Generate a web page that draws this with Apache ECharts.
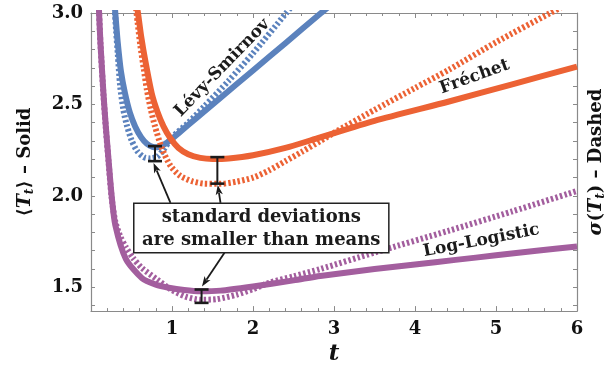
<!DOCTYPE html>
<html><head><meta charset="utf-8">
<script src="https://cdn.jsdelivr.net/npm/echarts@6/dist/echarts.min.js"></script>
<style>html,body{margin:0;padding:0;background:#fff}#c{width:616px;height:371px}</style>
</head><body><div id="c"></div>
<script>
// ---- data (t, value) ----
const lsMeanT = [0.28, 0.30, 0.33, 0.37, 0.42, 0.48, 0.545, 0.62, 0.69, 0.76, 0.82, 0.90, 0.98, 1.10, 1.30, 1.60, 2.00, 2.40, 2.84, 2.95];
const lsMeanY = [3.12, 3.00, 2.84, 2.68, 2.56, 2.455, 2.38, 2.32, 2.285, 2.268, 2.266, 2.28, 2.305, 2.35, 2.425, 2.537, 2.686, 2.835, 3.00, 3.04];
const lsSdT   = [0.285, 0.31, 0.33, 0.36, 0.40, 0.44, 0.50, 0.57, 0.65, 0.73, 0.82, 0.90, 1.00, 1.20, 1.40, 1.70, 2.00, 2.41, 2.50];
const lsSdY   = [3.08, 2.90, 2.78, 2.60, 2.47, 2.39, 2.305, 2.245, 2.212, 2.205, 2.215, 2.255, 2.32, 2.40, 2.49, 2.63, 2.78, 3.00, 3.05];

const frMeanT = [0.55, 0.58, 0.62, 0.67, 0.75, 0.82, 0.895, 0.98, 1.08, 1.20, 1.35, 1.50, 1.70, 2.00, 2.40, 2.83, 3.50, 4.42, 5.20, 6.00];
const frMeanY = [3.08, 3.00, 2.87, 2.74, 2.56, 2.46, 2.38, 2.315, 2.262, 2.228, 2.208, 2.202, 2.205, 2.222, 2.262, 2.32, 2.41, 2.516, 2.61, 2.707];
const frSdT   = [0.55, 0.575, 0.61, 0.65, 0.69, 0.74, 0.79, 0.875, 0.98, 1.10, 1.25, 1.40, 1.60, 1.80, 2.00, 2.20, 2.40, 2.60, 2.83, 3.00, 3.50, 4.00, 4.42, 5.00, 5.67, 5.80];
const frSdY   = [3.05, 2.95, 2.82, 2.70, 2.58, 2.47, 2.38, 2.26, 2.165, 2.11, 2.08, 2.067, 2.066, 2.078, 2.10, 2.14, 2.19, 2.24, 2.30, 2.345, 2.47, 2.59, 2.69, 2.84, 3.00, 3.03];

const llMeanT = [0.085, 0.10, 0.117, 0.154, 0.183, 0.216, 0.255, 0.30, 0.43, 0.63, 0.80, 0.96, 1.15, 1.35, 1.60, 2.00, 2.50, 2.83, 3.50, 4.00, 4.50, 5.00, 5.50, 6.00];
const llMeanY = [3.15, 3.00, 2.834, 2.56, 2.38, 2.20, 2.00, 1.84, 1.656, 1.55, 1.515, 1.498, 1.485, 1.478, 1.482, 1.505, 1.538, 1.562, 1.60, 1.625, 1.65, 1.675, 1.70, 1.723];
const llSdT   = [0.085, 0.10, 0.117, 0.154, 0.183, 0.216, 0.255, 0.30, 0.36, 0.43, 0.52, 0.63, 0.81, 0.98, 1.16, 1.35, 1.55, 1.80, 2.00, 2.20, 2.50, 2.83, 3.50, 4.42, 5.20, 6.00];
const llSdY   = [3.15, 3.00, 2.83, 2.55, 2.37, 2.19, 1.99, 1.86, 1.78, 1.72, 1.66, 1.605, 1.545, 1.49, 1.45, 1.432, 1.435, 1.46, 1.49, 1.525, 1.56, 1.60, 1.69, 1.81, 1.915, 2.027];

// x ticks / y tick labels
const xTickLabels = [1, 2, 3, 4, 5, 6];
const yTickLabels = [1.5, 2.0, 2.5, 3.0];
const yMinorTicks = [1.4, 1.5, 1.6, 1.7, 1.8, 1.9, 2.0, 2.1, 2.2, 2.3, 2.4, 2.5, 2.6, 2.7, 2.8, 2.9, 3.0];

// error bars at the minima (t, low, high)
const errT    = [0.79, 1.56, 1.365];
const errLow  = [2.19, 2.067, 1.415];
const errHigh = [2.272, 2.212, 1.488];

// annotation anchors in data coordinates
const arrowFromT = [0.981, 1.599, 1.648];
const arrowFromY = [1.962, 1.962, 1.689];
const arrowToT   = [0.772, 1.565, 1.370];
const arrowToY   = [2.180, 2.060, 1.505];
const boxCorners = [0.528, 1.689, 3.677, 1.960];
const boxLines   = ['standard deviations', 'are smaller than means'];
const curveNames = ['Lévy-Smirnov', 'Fréchet', 'Log-Logistic'];
const curveNameT = [1.62, 4.735, 4.82];
const curveNameY = [2.70, 2.651, 1.755];
const curveNameAngle = [46, 20, 11];

const zip = (a, b) => a.map((v, i) => [v, b[i]]);
const FONT = "'DejaVu Serif', serif";
const BLUE = '#5B82BD', ORANGE = '#EC6234', PURPLE = '#A35E9E';
const AX = '#8a8a8a';
const DASH = [2.4, 2.3];

function lineSeries(t, y, color, dashed, z) {
  return {
    type: 'line', data: zip(t, y), showSymbol: false, smooth: 0.25,
    clip: true, z: z, silent: true,
    lineStyle: { color: color, width: 6, type: dashed ? DASH : 'solid', cap: 'butt', join: 'round' }
  };
}

const chart = echarts.init(document.getElementById('c'), null, { renderer: 'canvas' });

const yAxisBase = {
  type: 'value', min: 1.37, max: 3.0,
  axisLine: { show: true, onZero: false, lineStyle: { color: AX, width: 1.2 } },
  axisTick: { show: true, inside: true, length: 4, customValues: yMinorTicks, lineStyle: { color: AX } },
  splitLine: { show: false },
};
const nameRich = {
  it: { fontFamily: FONT, fontWeight: 'bold', fontStyle: 'italic', fontSize: 19, color: '#111' },
  sub: { fontFamily: FONT, fontWeight: 'bold', fontStyle: 'italic', fontSize: 12, color: '#111', padding: [10, 0, 0, 0] }
};

chart.setOption({
  animation: false,
  grid: { left: 91, right: 39, top: 13, bottom: 58 },
  xAxis: [{
    type: 'value', min: 0, max: 6, interval: 1, position: 'bottom',
    axisLine: { show: true, onZero: false, lineStyle: { color: AX, width: 1.2 } },
    axisTick: { show: true, inside: true, length: 5, lineStyle: { color: AX } },
    minorTick: { show: true, splitNumber: 5, length: 3, lineStyle: { color: AX } },
    splitLine: { show: false }, minorSplitLine: { show: false },
    axisLabel: { formatter: v => (xTickLabels.indexOf(v) >= 0 ? String(v) : ''), color: '#111', fontFamily: FONT, fontWeight: 'bold', fontSize: 18, margin: 9 },
    name: 't', nameLocation: 'middle', nameGap: 27,
    nameTextStyle: { fontFamily: FONT, fontWeight: 'bold', fontStyle: 'italic', fontSize: 23, color: '#111' }
  }, {
    type: 'value', min: 0, max: 6, interval: 1, position: 'top',
    axisLine: { show: true, onZero: false, lineStyle: { color: AX, width: 1.2 } },
    axisTick: { show: true, inside: true, length: 5, lineStyle: { color: AX } },
    minorTick: { show: true, splitNumber: 5, length: 3, lineStyle: { color: AX } },
    splitLine: { show: false }, axisLabel: { show: false }
  }],
  yAxis: [Object.assign({}, yAxisBase, {
    position: 'left',
    axisLabel: { customValues: yTickLabels, formatter: v => v.toFixed(1), color: '#111', fontFamily: FONT, fontWeight: 'bold', fontSize: 18, margin: 8 },
    name: '⟨{it|T}{sub|t}⟩ – Solid', nameLocation: 'middle', nameGap: 55, nameRotate: 90,
    nameTextStyle: { fontFamily: FONT, fontWeight: 'bold', fontSize: 18, color: '#111', rich: nameRich }
  }), Object.assign({}, yAxisBase, {
    position: 'right',
    axisLabel: { show: false },
    name: '{it|σ}({it|T}{sub|t}) – Dashed', nameLocation: 'middle', nameGap: 8, nameRotate: 90,
    nameTextStyle: { fontFamily: FONT, fontWeight: 'bold', fontSize: 18, color: '#111', verticalAlign: 'top', rich: nameRich }
  })],
  series: [
    lineSeries(lsSdT, lsSdY, BLUE, true, 2),
    lineSeries(lsMeanT, lsMeanY, BLUE, false, 3),
    lineSeries(frSdT, frSdY, ORANGE, true, 4),
    lineSeries(frMeanT, frMeanY, ORANGE, false, 5),
    lineSeries(llSdT, llSdY, PURPLE, true, 6),
    lineSeries(llMeanT, llMeanY, PURPLE, false, 7),
    { // error bars
      type: 'custom', z: 10, silent: true,
      data: errT.map((t, i) => [t, errLow[i], errHigh[i]]),
      renderItem: (params, api) => {
        const a = api.coord([api.value(0), api.value(1)]);
        const b = api.coord([api.value(0), api.value(2)]);
        const st = { stroke: '#1b1b1b', lineWidth: 2 };
        const cap = { stroke: '#1b1b1b', lineWidth: 2.6 };
        return { type: 'group', children: [
          { type: 'line', shape: { x1: a[0], y1: a[1], x2: b[0], y2: b[1] }, style: st },
          { type: 'line', shape: { x1: a[0] - 7, y1: a[1], x2: a[0] + 7, y2: a[1] }, style: cap },
          { type: 'line', shape: { x1: b[0] - 7, y1: b[1], x2: b[0] + 7, y2: b[1] }, style: cap }
        ] };
      }
    },
    { // arrows
      type: 'custom', z: 11, silent: true,
      data: arrowFromT.map((t, i) => [t, arrowFromY[i], arrowToT[i], arrowToY[i]]),
      renderItem: (params, api) => {
        const p = api.coord([api.value(0), api.value(1)]);
        const q = api.coord([api.value(2), api.value(3)]);
        const dx = q[0] - p[0], dy = q[1] - p[1], L = Math.hypot(dx, dy);
        const ux = dx / L, uy = dy / L, hl = 10, hw = 3.6;
        const bx = q[0] - ux * hl, by = q[1] - uy * hl;
        return { type: 'group', children: [
          { type: 'line', shape: { x1: p[0], y1: p[1], x2: bx + ux * 2, y2: by + uy * 2 }, style: { stroke: '#1b1b1b', lineWidth: 1.8 } },
          { type: 'polygon', shape: { points: [[q[0], q[1]], [bx - uy * hw, by + ux * hw], [bx + ux * 2.5, by + uy * 2.5], [bx + uy * hw, by - ux * hw]] }, style: { fill: '#1b1b1b' } }
        ] };
      }
    },
    { // annotation box
      type: 'custom', z: 12, silent: true,
      data: [boxCorners],
      renderItem: (params, api) => {
        const a = api.coord([api.value(0), api.value(3)]);
        const b = api.coord([api.value(2), api.value(1)]);
        const cx = (a[0] + b[0]) / 2, h = b[1] - a[1];
        const f = 'bold 18px ' + FONT;
        return { type: 'group', children: [
          { type: 'rect', shape: { x: a[0], y: a[1], width: b[0] - a[0], height: h }, style: { fill: '#fff', stroke: '#222', lineWidth: 1.5 } },
          { type: 'text', x: cx, y: a[1] + h * 0.29, style: { text: boxLines[0], font: f, fill: '#1b1b1b', align: 'center', verticalAlign: 'middle' } },
          { type: 'text', x: cx, y: a[1] + h * 0.74, style: { text: boxLines[1], font: f, fill: '#1b1b1b', align: 'center', verticalAlign: 'middle' } }
        ] };
      }
    },
    { // curve names
      type: 'custom', z: 12, silent: true,
      data: curveNameT.map((t, i) => [t, curveNameY[i], curveNameAngle[i], i]),
      renderItem: (params, api) => {
        const p = api.coord([api.value(0), api.value(1)]);
        return { type: 'text', x: p[0], y: p[1], rotation: api.value(2) * Math.PI / 180,
          style: { text: curveNames[api.value(3)], font: 'bold 17px ' + FONT, fill: '#1b1b1b', align: 'center', verticalAlign: 'middle' } };
      }
    }
  ]
});
</script></body></html>
